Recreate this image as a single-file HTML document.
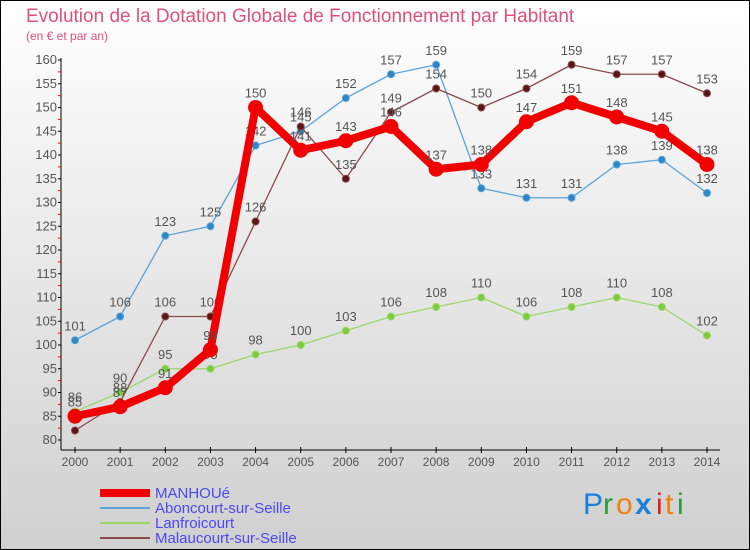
<!DOCTYPE html>
<html><head><meta charset="utf-8"><style>
body{margin:0}
#c{width:750px;height:550px;position:relative;overflow:hidden;font-family:"Liberation Sans","DejaVu Sans",sans-serif}
svg text{font-family:"Liberation Sans","DejaVu Sans",sans-serif}
</style></head><body>
<div id="c">
<svg id="s" width="750" height="550" xmlns="http://www.w3.org/2000/svg">
<defs><linearGradient id="bg" x1="0" y1="0" x2="0" y2="1"><stop offset="0" stop-color="#ffffff"/><stop offset="1" stop-color="#d0d0d0"/></linearGradient></defs>
<rect x="0.5" y="0.5" width="749" height="549" fill="url(#bg)" stroke="#000"/>
<text x="26" y="22" font-size="19" fill="#e0507a">Evolution de la Dotation Globale de Fonctionnement par Habitant</text>
<text x="26" y="40" font-size="12" fill="#e0507a">(en € et par an)</text>
<g id="axes"></g><g id="series"></g><g id="legend"></g>
<g font-size="30">
<text x="583" y="514" fill="#1a7fd6">P</text><text x="603" y="514" fill="#2a9a3a">r</text><text x="616" y="514" fill="#f08010">o</text><text x="635" y="514" fill="#1a7fd6" font-weight="bold">x</text><text x="656" y="514" fill="#e02020">i</text><text x="665" y="514" fill="#f08010">t</text><text x="677" y="514" fill="#2a9a3a">i</text>
</g>
</svg></div>
<script>
const years=[2000,2001,2002,2003,2004,2005,2006,2007,2008,2009,2010,2011,2012,2013,2014];
const manhoue=[85,87,91,99,150,141,143,146,137,138,147,151,148,145,138];
const aboncourt=[101,106,123,125,142,145,152,157,159,133,131,131,138,139,132];
const lanfroicourt=[86,90,95,95,98,100,103,106,108,110,106,108,110,108,102];
const malaucourt=[82,88,106,106,126,146,135,149,154,150,154,159,157,157,153];
const yTicks=[80,85,90,95,100,105,110,115,120,125,130,135,140,145,150,155,160];
const NS="http://www.w3.org/2000/svg";
const X=i=>75+i*(707-75)/14;
const Y=v=>440-(v-80)*380/80;
function mk(t,a,p){const e=document.createElementNS(NS,t);for(const k in a)e.setAttribute(k,a[k]);p.appendChild(e);return e;}
const ax=document.getElementById('axes');
let l=mk('line',{x1:61,y1:58,x2:61,y2:450,stroke:'#000'},ax);


l=mk('line',{x1:61,y1:450,x2:720,y2:450,stroke:'#000'},ax);


yTicks.forEach(v=>{
 mk('line',{x1:58,y1:Y(v),x2:61,y2:Y(v),stroke:'#000'},ax);
 if(v<160)mk('line',{x1:58,y1:Y(v+2.5),x2:61,y2:Y(v+2.5),stroke:'#f00'},ax);
 const t=mk('text',{x:57,y:Y(v)+4,'text-anchor':'end','font-size':13,fill:'#555'},ax);t.textContent=v;
 
 
});
years.forEach((y,i)=>{
 mk('line',{x1:X(i),y1:447,x2:X(i),y2:453,stroke:'#000'},ax);
 const t=mk('text',{x:X(i),y:466,'text-anchor':'middle','font-size':12,fill:'#555'},ax);t.textContent=y;
 
 
});
const sg=document.getElementById('series');
function series(data,col,dot,w,r,name){
 const g=mk('g',{},sg);
 
 
 mk('polyline',{points:data.map((v,i)=>X(i)+','+Y(v)).join(' '),fill:'none',stroke:col,'stroke-width':w,'stroke-linejoin':'round'},g);
 data.forEach((v,i)=>{
  const c=mk('circle',{cx:X(i),cy:Y(v),r:r,fill:dot,stroke:col,'stroke-width':1},g);
  
  
  const t=mk('text',{x:X(i),y:Y(v)-10,'text-anchor':'middle','font-size':13,fill:'#555'},g);t.textContent=v;
  
  
 });
}
series(aboncourt,'#5ba3d8','#2d86c8',1.3,3.5,'series-aboncourt');
series(lanfroicourt,'#9ad86a','#7ccc3a',1.3,3.5,'series-lanfroicourt');
series(malaucourt,'#8a4a4a','#5a1515',1.3,3.5,'series-malaucourt');
series(manhoue,'#f00000','#f00000',8,7,'series-manhoue');
const lg=document.getElementById('legend');
const items=[['MANHOUé','#f00000',8],['Aboncourt-sur-Seille','#5ba3d8',2],['Lanfroicourt','#9ad86a',2],['Malaucourt-sur-Seille','#8a4a4a',2]];
items.forEach((it,i)=>{
 const y=493+i*15;
 const g=mk('g',{},lg);
 
 
 mk('line',{x1:100,y1:y,x2:150,y2:y,stroke:it[1],'stroke-width':it[2]},g);
 const t=mk('text',{x:155,y:y+5,'font-size':15,fill:'#4a4af0'},g);t.textContent=it[0];
});
</script>
</body></html>
